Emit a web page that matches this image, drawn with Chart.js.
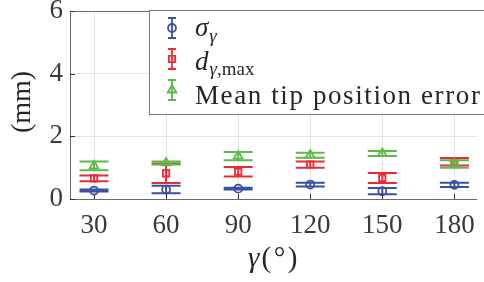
<!DOCTYPE html>
<html><head><meta charset="utf-8">
<script src="https://cdn.jsdelivr.net/npm/chart.js@4/dist/chart.umd.min.js"></script>
<style>html,body{margin:0;padding:0;background:#fff;overflow:hidden}</style>
</head><body>
<canvas id="c" width="484" height="282"></canvas>
<script>
// ---- data ----
const gammaAngles = [30, 60, 90, 120, 150, 180];
const xTickValues = [30, 60, 90, 120, 150, 180];
const yTickValues = [0, 2, 4, 6];
const sigmaMean = [0.27, 0.30, 0.33, 0.46, 0.25, 0.45];
const sigmaErr  = [0.03, 0.12, 0.03, 0.06, 0.10, 0.07];
const dmaxMean  = [0.66, 0.82, 0.87, 1.10, 0.67, 1.19];
const dmaxErr   = [0.09, 0.31, 0.15, 0.10, 0.16, 0.12];
const tipMean   = [1.06, 1.15, 1.37, 1.40, 1.45, 1.12];
const tipErr    = [0.14, 0.05, 0.13, 0.08, 0.08, 0.12];

const BLUE = '#3a50a2', RED = '#ec2a36', GREEN = '#5dba49';
const SERIF = "'Liberation Serif', 'Times New Roman', serif";
Chart.defaults.font.family = SERIF;

function pts(means){ return gammaAngles.map((g,i)=>({x:g, y:means[i]})); }

const datasets = [
  {label:'sigma', data:pts(sigmaMean), err:sigmaErr, borderColor:BLUE, pointStyle:'circle', pointRadius:4, order:2},
  {label:'dmax', data:pts(dmaxMean), err:dmaxErr, borderColor:RED, pointStyle:'rect', pointRadius:4.5, order:1},
  {label:'tip', data:pts(tipMean), err:tipErr, borderColor:GREEN, pointStyle:'triangle', pointRadius:5, order:0}
].map(d=>Object.assign({backgroundColor:'rgba(0,0,0,0)', pointBorderWidth:1.8, showLine:false, pointBorderColor:d.borderColor, pointBackgroundColor:'rgba(0,0,0,0)'}, d));

const errorBarPlugin = {
  id:'errorBars',
  afterDatasetDraw(chart, args){
    const ds = chart.data.datasets[args.index];
    const xs = chart.scales.x, ys = chart.scales.y, ctx = chart.ctx;
    ctx.save();
    ctx.strokeStyle = ds.borderColor; ctx.lineWidth = 2;
    ds.data.forEach((p,i)=>{
      const x = xs.getPixelForValue(p.x);
      const yt = ys.getPixelForValue(p.y + ds.err[i]);
      const yb = ys.getPixelForValue(p.y - ds.err[i]);
      const hw = 14.5;
      ctx.beginPath();
      ctx.moveTo(x, yt); ctx.lineTo(x, yb);
      ctx.moveTo(x-hw, yt); ctx.lineTo(x+hw, yt);
      ctx.moveTo(x-hw, yb); ctx.lineTo(x+hw, yb);
      ctx.stroke();
    });
    ctx.restore();
  }
};

function drawMarker(ctx, style, x, y){
  Chart.helpers.drawPoint(ctx, {pointStyle:style, radius: style==='circle'?4:(style==='rect'?4.5:5), borderWidth:1.8}, x, y);
}

const framePlugin = {
  id:'frame',
  afterDraw(chart){
    const ctx = chart.ctx, a = chart.chartArea, xs = chart.scales.x, ys = chart.scales.y;
    ctx.save();
    // frame
    ctx.strokeStyle = '#6a6a6a'; ctx.lineWidth = 1;
    ctx.beginPath();
    ctx.moveTo(a.left+0.5, a.bottom+0.5); ctx.lineTo(a.left+0.5, a.top+0.5); ctx.lineTo(a.right, a.top+0.5);
    ctx.moveTo(a.left+0.5, a.bottom+0.5); ctx.lineTo(a.right, a.bottom+0.5);
    ctx.stroke();
    // inward ticks
    ctx.strokeStyle = '#333';
    ctx.beginPath();
    xTickValues.forEach(v=>{ const x = Math.round(xs.getPixelForValue(v))+0.5; ctx.moveTo(x, a.bottom); ctx.lineTo(x, a.bottom-5); });
    yTickValues.forEach(v=>{ const y = Math.round(ys.getPixelForValue(v))+0.5; ctx.moveTo(a.left, y); ctx.lineTo(a.left+5, y); });
    ctx.stroke();

    // axis titles
    ctx.fillStyle = '#262626';
    ctx.textBaseline = 'middle';
    ctx.textAlign = 'center';
    ctx.save();
    ctx.translate(23, (a.top + a.bottom)/2 - 3);
    ctx.rotate(-Math.PI/2);
    ctx.font = '28px ' + SERIF;
    ctx.fillText('(mm)', 0, 0);
    ctx.restore();
    // x title: italic gamma + (°)
    ctx.textAlign = 'left';
    ctx.font = 'italic 29px ' + SERIF;
    const g = 'γ';
    const gw = ctx.measureText(g).width;
    ctx.font = '29px ' + SERIF;
    const rest = '(°)';
    ctx.letterSpacing = '2.5px';
    const rw = ctx.measureText(rest).width;
    const cx = 274, cy = 259;
    let sx = cx - (gw + 2 + rw)/2;
    ctx.font = 'italic 29px ' + SERIF; ctx.letterSpacing = '0px';
    ctx.fillText(g, sx, cy);
    ctx.font = '29px ' + SERIF; ctx.letterSpacing = '2.5px';
    ctx.fillText(rest, sx + gw + 2, cy);
    ctx.letterSpacing = '0px';

    // legend
    const lx = 149.5, ly = 10.5, lw = 345, lh = 104;
    ctx.fillStyle = '#fff';
    ctx.fillRect(lx, ly, lw, lh);
    ctx.strokeStyle = '#7a7a7a'; ctx.lineWidth = 1;
    ctx.strokeRect(lx, ly, lw, lh);
    const rows = [
      {c:BLUE, s:'circle', cy:28, base:36},
      {c:RED, s:'rect', cy:59, base:70},
      {c:GREEN, s:'triangle', cy:90, base:104}
    ];
    rows.forEach(r=>{
      ctx.strokeStyle = r.c; ctx.lineWidth = 1.8;
      ctx.beginPath();
      ctx.moveTo(172, r.cy-10); ctx.lineTo(172, r.cy+10);
      ctx.moveTo(168, r.cy-10); ctx.lineTo(176, r.cy-10);
      ctx.moveTo(168, r.cy+10); ctx.lineTo(176, r.cy+10);
      ctx.stroke();
      ctx.fillStyle = 'rgba(0,0,0,0)';
      drawMarker(ctx, r.s, 172, r.cy);
    });
    ctx.fillStyle = '#262626';
    ctx.textBaseline = 'alphabetic';
    ctx.textAlign = 'left';
    // sigma_gamma
    ctx.font = 'italic 27px ' + SERIF;
    ctx.fillText('σ', 195, rows[0].base);
    let w = ctx.measureText('σ').width;
    ctx.font = 'italic 19px ' + SERIF;
    ctx.fillText('γ', 195 + w + 1, rows[0].base + 6);
    // d_{gamma,max}
    ctx.font = 'italic 27px ' + SERIF;
    ctx.fillText('d', 195, rows[1].base);
    w = ctx.measureText('d').width;
    ctx.font = 'italic 19px ' + SERIF;
    ctx.fillText('γ', 195 + w + 1, rows[1].base + 5);
    const w2 = ctx.measureText('γ').width;
    ctx.font = '19px ' + SERIF;
    ctx.fillText(',max', 195 + w + 1 + w2, rows[1].base + 5);
    // mean tip position error
    ctx.font = '27px ' + SERIF;
    ctx.letterSpacing = '1.6px';
    ctx.fillText('Mean tip position error', 195, rows[2].base);
    ctx.letterSpacing = '0px';
    ctx.restore();
  }
};

new Chart(document.getElementById('c'), {
  type:'scatter',
  data:{datasets},
  options:{
    responsive:false, animation:false, devicePixelRatio:1,
    layout:{padding:{top:11, right:0, left:0, bottom:0}},
    plugins:{legend:{display:false}, tooltip:{enabled:false}},
    scales:{
      x:{type:'linear', min:20, max:189.5,
        afterBuildTicks:s=>{ s.ticks = xTickValues.map(v=>({value:v})); },
        afterFit:s=>{ s.height = 83; s.paddingLeft = 0; s.paddingRight = 0; },
        grid:{color:'#e4e4e4', drawTicks:false, lineWidth:1},
        border:{display:false},
        ticks:{font:{family:SERIF, size:27}, color:'#3a3a3a', padding:11, maxRotation:0, autoSkip:false}
      },
      y:{type:'linear', min:0, max:6,
        afterBuildTicks:s=>{ s.ticks = yTickValues.map(v=>({value:v})); },
        afterFit:s=>{ s.width = 70; s.paddingTop = 0; s.paddingBottom = 0; },
        grid:{color:'#e4e4e4', drawTicks:false, lineWidth:1},
        border:{display:false},
        ticks:{font:{family:SERIF, size:27}, color:'#3a3a3a', padding:7}
      }
    }
  },
  plugins:[errorBarPlugin, framePlugin]
});
</script>
</body></html>
